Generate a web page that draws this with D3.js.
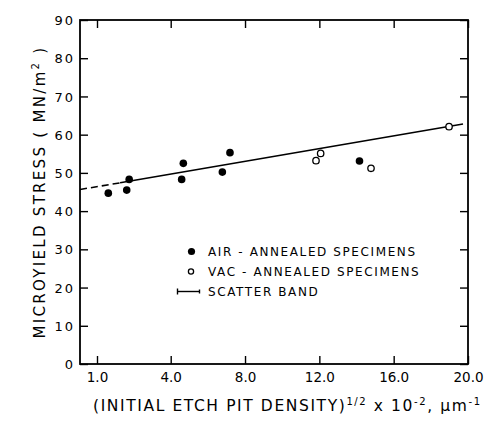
<!DOCTYPE html>
<html>
<head>
<meta charset="utf-8">
<script src="https://cdn.jsdelivr.net/npm/d3@7/dist/d3.min.js"></script>
<style>
  html, body { margin: 0; padding: 0; background: #fff; }
  svg { display: block; }
  text { font-family: "DejaVu Sans", sans-serif; fill: #000; }
</style>
</head>
<body>
<svg id="chart" width="492" height="430"></svg>
<script>
// ---- data ----
const airX = [1.46, 2.21, 2.31, 4.68, 4.59, 6.78, 7.19, 14.16];
const airY = [44.7, 45.5, 48.3, 52.5, 48.3, 50.2, 55.3, 53.1];
const vacX = [11.82, 12.07, 14.78, 18.98];
const vacY = [53.2, 55.1, 51.2, 62.1];
const bandDashX = [0.31, 1.94];
const bandDashY = [45.66, 47.4];
const bandSolidX = [1.94, 19.73];
const bandSolidY = [47.4, 62.8];
const xTickValues = [1, 4, 8, 12, 16, 20];
const xTickLabels = ["1.0", "4.0", "8.0", "12.0", "16.0", "20.0"];
const yTickValues = [0, 10, 20, 30, 40, 50, 60, 70, 80, 90];
const legendLabels = ["AIR - ANNEALED SPECIMENS", "VAC - ANNEALED SPECIMENS", "SCATTER BAND"];

const svg = d3.select("#chart");
const L = 80, R = 468, T = 20, B = 364;

// the printed axis is not uniform between 1.0 and 4.0
const x = d3.scaleLinear().domain([1, 4, 20]).range([97, 170.7, R]);
const y = d3.scaleLinear().domain([0, 90]).range([B, T]);

const tickLen = 8;
const xb = d3.axisBottom(x).tickValues(xTickValues).tickSizeInner(-tickLen).tickSizeOuter(0)
  .tickFormat((d, i) => xTickLabels[i]).tickPadding(8);
const gxb = svg.append("g").attr("transform", `translate(0,${B})`).call(xb);
const xt = d3.axisTop(x).tickValues(xTickValues).tickSizeInner(-tickLen).tickSizeOuter(0).tickFormat("");
const gxt = svg.append("g").attr("transform", `translate(0,${T})`).call(xt);
const yl = d3.axisLeft(y).tickValues(yTickValues).tickSizeInner(-tickLen).tickSizeOuter(0).tickPadding(5);
const gyl = svg.append("g").attr("transform", `translate(${L},0)`).call(yl);
const yr = d3.axisRight(y).tickValues(yTickValues).tickSizeInner(-tickLen).tickSizeOuter(0).tickFormat("");
const gyr = svg.append("g").attr("transform", `translate(${R},0)`).call(yr);

[gxb, gxt, gyl, gyr].forEach(g => {
  g.select(".domain").remove();
  g.selectAll(".tick line").attr("stroke", "#000").attr("stroke-width", 1.4);
  g.selectAll("text").attr("font-family", "DejaVu Sans").attr("fill", "#000");
});
gxb.selectAll("text").attr("font-size", 13.5).attr("dy", "0.71em");
gyl.selectAll("text").attr("font-size", 13).attr("letter-spacing", 2).attr("dy", "0.35em");

// frame
svg.append("rect").attr("x", L).attr("y", T).attr("width", R - L).attr("height", B - T)
  .attr("fill", "none").attr("stroke", "#000").attr("stroke-width", 1.8);

// scatter band line
const line = d3.line().x(d => x(d[0])).y(d => y(d[1]));
svg.append("path").datum(bandDashX.map((v, i) => [v, bandDashY[i]]))
  .attr("d", line).attr("fill", "none").attr("stroke", "#000").attr("stroke-width", 1.6)
  .attr("stroke-dasharray", "7,4");
svg.append("path").datum(bandSolidX.map((v, i) => [v, bandSolidY[i]]))
  .attr("d", line).attr("fill", "none").attr("stroke", "#000").attr("stroke-width", 1.6);

// points
svg.append("g").selectAll("circle").data(airX.map((v, i) => [v, airY[i]])).join("circle")
  .attr("cx", d => x(d[0])).attr("cy", d => y(d[1])).attr("r", 3.8).attr("fill", "#000");
svg.append("g").selectAll("circle").data(vacX.map((v, i) => [v, vacY[i]])).join("circle")
  .attr("cx", d => x(d[0])).attr("cy", d => y(d[1])).attr("r", 3.2)
  .attr("fill", "#fff").attr("stroke", "#000").attr("stroke-width", 1.3);

// legend
const lg = svg.append("g");
const ly = [251.5, 271.5, 291.5];
lg.append("circle").attr("cx", 191.5).attr("cy", ly[0]).attr("r", 3.6).attr("fill", "#000");
lg.append("circle").attr("cx", 191).attr("cy", ly[1]).attr("r", 2.6).attr("fill", "#fff")
  .attr("stroke", "#000").attr("stroke-width", 1.3);
lg.append("line").attr("x1", 177).attr("x2", 200).attr("y1", ly[2]).attr("y2", ly[2])
  .attr("stroke", "#000").attr("stroke-width", 1.4);
lg.append("line").attr("x1", 177.5).attr("x2", 177.5).attr("y1", ly[2] - 3).attr("y2", ly[2] + 3)
  .attr("stroke", "#000").attr("stroke-width", 1.4);
lg.append("line").attr("x1", 199.5).attr("x2", 199.5).attr("y1", ly[2] - 2).attr("y2", ly[2] + 2)
  .attr("stroke", "#000").attr("stroke-width", 1.4);
lg.selectAll("text.lab").data(legendLabels).join("text").attr("class", "lab")
  .attr("x", 208).attr("y", (d, i) => ly[i]).attr("dy", "0.36em")
  .attr("font-size", 12).attr("letter-spacing", 1.6).text(d => d);

// y title
const yt = svg.append("text").attr("transform", "translate(45,192) rotate(-90)")
  .attr("text-anchor", "middle").attr("font-size", 15).attr("letter-spacing", 2.3);
yt.append("tspan").text("MICROYIELD STRESS ( MN/m");
yt.append("tspan").attr("font-size", 10).attr("baseline-shift", "60%").text("2");
yt.append("tspan").text(" )");

// x title
const xtt = svg.append("text").attr("x", 93).attr("y", 411).attr("font-size", 15.5).attr("letter-spacing", 1.6);
xtt.append("tspan").text("(INITIAL ETCH PIT DENSITY)");
xtt.append("tspan").attr("font-size", 10).attr("baseline-shift", "65%").text("1/2");
xtt.append("tspan").text(" x 10");
xtt.append("tspan").attr("font-size", 10).attr("baseline-shift", "65%").text("-2");
xtt.append("tspan").text(", \u03BCm");
xtt.append("tspan").attr("font-size", 10).attr("baseline-shift", "65%").text("-1");
</script>
</body>
</html>
